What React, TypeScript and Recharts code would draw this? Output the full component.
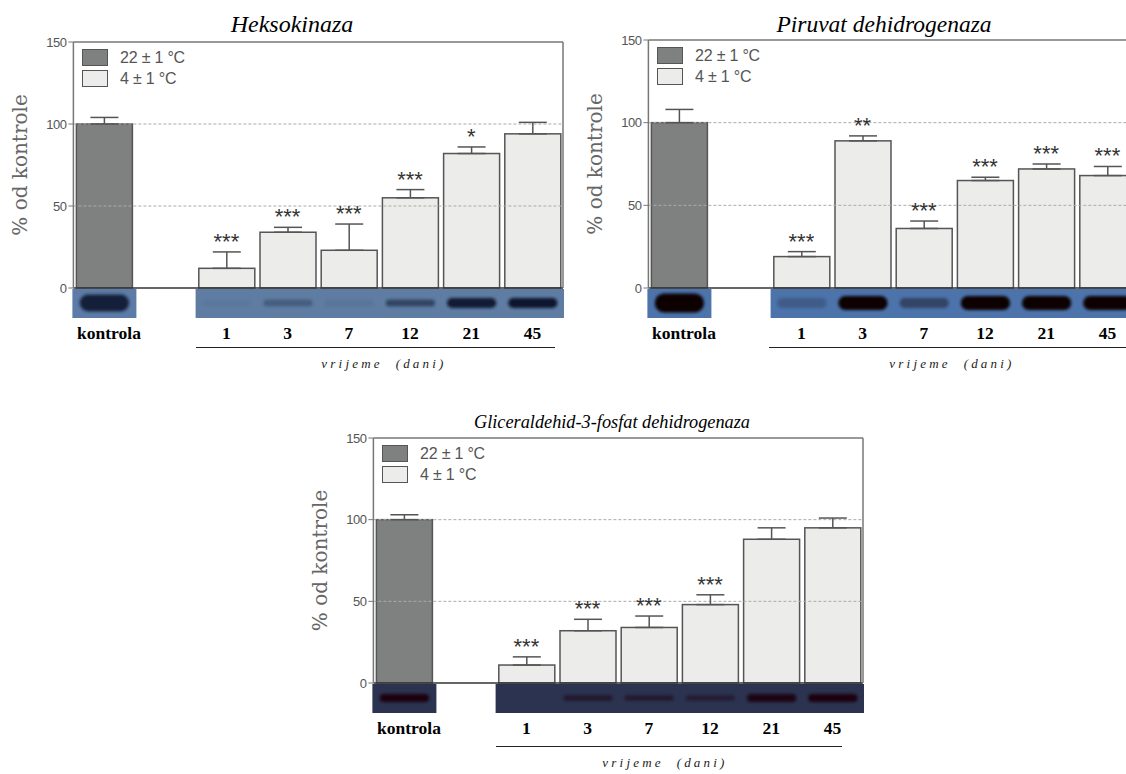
import {
  Bar,
  Cell,
  ComposedChart,
  ErrorBar,
  LabelList,
  Legend,
  Line,
  ReferenceLine,
  XAxis,
  YAxis,
} from 'recharts';

const categories = ['kontrola', '', '1', '3', '7', '12', '21', '45'];
const yTicks = [0, 50, 100, 150];
const legendLabels = ['22 ± 1 °C', '4 ± 1 °C'];

// null = empty slot between the control and the time points
const hexoValues = [100, null, 12, 34, 23, 55, 82, 94];
const hexoErrors = [4, null, 10, 3, 16, 5, 4, 7];
const hexoStars = ['', '', '***', '***', '***', '***', '*', ''];
const hexoBands = [0.9, null, 0.05, 0.3, 0.08, 0.55, 0.95, 1];

const pdhValues = [100, null, 19, 89, 36, 65, 72, 68];
const pdhErrors = [8, null, 3, 3, 4.5, 2, 3, 5.5];
const pdhStars = ['', '', '***', '**', '***', '***', '***', '***'];
const pdhBands = [1, null, 0.2, 1, 0.4, 1, 1, 1];

const gapdhValues = [100, null, 11, 32, 34, 48, 88, 95];
const gapdhErrors = [3, null, 5, 7, 7, 6, 7, 6];
const gapdhStars = ['', '', '***', '***', '***', '***', '', ''];
const gapdhBands = [1, null, 0, 0.55, 0.5, 0.45, 0.9, 1];

const DARK = '#7f8180';
const LIGHT = '#ececeb';
const EDGE = '#555';
const serif = '"Liberation Serif", serif';
const sans = '"Liberation Sans", sans-serif';

function buildRows(values, errors, stars, bands) {
  return categories.map((label, i) => ({
    label,
    value: values[i],
    errRange: errors[i] == null ? undefined : [0, errors[i]],
    top: values[i] == null ? null : values[i] + errors[i],
    stars: stars[i],
    band: bands[i],
  }));
}

function LegendBox() {
  return (
    <div style={{ fontFamily: sans, fontSize: 16, color: '#555', letterSpacing: -0.2 }}>
      {legendLabels.map((text, i) => (
        <div key={text} style={{ display: 'flex', alignItems: 'center', height: 21 }}>
          <span
            style={{
              width: 24,
              height: 15,
              marginRight: 12,
              background: i === 0 ? DARK : LIGHT,
              border: `1px solid ${EDGE}`,
            }}
          />
          {text}
        </div>
      ))}
    </div>
  );
}

function CategoryTick({ x, y, payload }) {
  // the "kontrola" label sits a little right of its bar in the original
  const shift = payload.value === 'kontrola' ? 5 : 0;
  return (
    <text x={x + shift} y={y} dy={12} textAnchor="middle" fontFamily={serif} fontWeight={700} fontSize={17.5} fill="#000">
      {payload.value}
    </text>
  );
}

function Panel({ rows, left, top, width, height, plotTop, plotBottom, blot, title, titleX, titleY, titleSize, ruleX1, ruleX2, ruleY, captionX }) {
  const blurId = `blur-${left}`;

  const barShape = (props) => {
    const { x, y, width: w, height: h, payload, index } = props;
    if (payload.value == null) return null;
    const stripTop = y + h + 1;
    const isControl = index === 0;
    const pad = isControl ? 4 : 3.2;
    const bandH = isControl ? blot.controlBand : payload.band > 0.8 ? blot.band : blot.band * 0.7;
    return (
      <g>
        <rect x={x} y={y} width={w} height={h} fill={isControl ? DARK : LIGHT} stroke={EDGE} strokeWidth={1.5} />
        <rect x={x - pad} y={stripTop} width={w + pad * 2} height={29} fill={isControl ? blot.control : blot.lanes} />
        <rect
          x={x + w * 0.06}
          y={stripTop + 14 - bandH / 2}
          width={w * 0.88}
          height={bandH}
          rx={bandH / 2}
          fill={blot.ink}
          opacity={payload.band}
          filter={`url(#${blurId})`}
        />
      </g>
    );
  };

  return (
    <div style={{ position: 'absolute', left, top, width, height }}>
      <div
        style={{
          position: 'absolute',
          left: titleX - left - 200,
          top: titleY - top - 12,
          width: 400,
          textAlign: 'center',
          fontFamily: serif,
          fontStyle: 'italic',
          fontSize: titleSize,
          lineHeight: '24px',
          color: '#000',
        }}
      >
        {title}
      </div>
      <ComposedChart
        width={width}
        height={height}
        data={rows}
        margin={{ top: plotTop, right: 6, left: 0, bottom: plotBottom - 30 }}
        barCategoryGap={0}
      >
        <defs>
          <filter id={blurId} x="-30%" y="-100%" width="160%" height="300%">
            <feGaussianBlur stdDeviation="1.8" />
          </filter>
        </defs>
        <XAxis
          dataKey="label"
          type="category"
          interval={0}
          tickLine={false}
          tickMargin={33}
          axisLine={{ stroke: '#333', strokeWidth: 1.5 }}
          tick={CategoryTick}
        />
        <YAxis
          domain={[0, 150]}
          ticks={yTicks}
          width={73.4}
          tickSize={5}
          tickMargin={2}
          interval={0}
          axisLine={{ stroke: '#777', strokeWidth: 1.5 }}
          tickLine={{ stroke: '#777' }}
          tick={{ fontFamily: sans, fontSize: 13, fill: '#555', letterSpacing: -0.5 }}
          label={{
            value: '% od kontrole',
            angle: -90,
            position: 'insideLeft',
            offset: 20,
            style: { fontFamily: '"DejaVu Serif", serif', fontSize: 20, fill: '#666', textAnchor: 'middle' },
          }}
        />
        <YAxis
          yAxisId="frame"
          orientation="right"
          domain={[0, 150]}
          width={1}
          tick={false}
          tickLine={false}
          axisLine={{ stroke: '#777', strokeWidth: 1.5 }}
        />
        <ReferenceLine y={150} stroke="#777" strokeWidth={1.5} />
        <ReferenceLine y={100} stroke="#aaa" strokeDasharray="3 2" />
        <ReferenceLine y={50} stroke="#aaa" strokeDasharray="3 2" />
        <Legend
          layout="vertical"
          align="center"
          verticalAlign="middle"
          content={<LegendBox />}
          wrapperStyle={{ left: 82, top: plotTop + 5, width: 140 }}
        />
        <Bar dataKey="value" barSize={56} shape={barShape} isAnimationActive={false}>
          {rows.map((row) => (
            <Cell key={row.label} fill={row.label === 'kontrola' ? DARK : LIGHT} />
          ))}
          <ErrorBar dataKey="errRange" width={14} stroke={EDGE} strokeWidth={1.5} isAnimationActive={false} />
        </Bar>
        <Line dataKey="top" stroke="none" dot={false} activeDot={false} legendType="none" isAnimationActive={false}>
          <LabelList
            dataKey="stars"
            position="top"
            offset={3}
            style={{ fontFamily: sans, fontSize: 22, fill: '#333' }}
          />
        </Line>
      </ComposedChart>
      <div
        style={{
          position: 'absolute',
          left: ruleX1 - left,
          top: ruleY - top,
          width: ruleX2 - ruleX1,
          borderTop: '1.5px solid #222',
        }}
      />
      <div
        style={{
          position: 'absolute',
          left: captionX - left - 150,
          top: ruleY - top + 9,
          width: 300,
          textAlign: 'center',
          fontFamily: serif,
          fontStyle: 'italic',
          fontSize: 13,
          letterSpacing: 3.2,
          whiteSpace: 'pre',
          color: '#222',
        }}
      >
        {'vrijeme  (dani)'}
      </div>
    </div>
  );
}

export default function App() {
  return (
    <div
      style={{
        position: 'absolute',
        left: 0,
        top: 0,
        width: 1126,
        height: 774,
        overflow: 'hidden',
        background: '#fff',
      }}
    >
      <Panel
        rows={buildRows(hexoValues, hexoErrors, hexoStars, hexoBands)}
        left={0}
        top={0}
        width={570}
        height={385}
        plotTop={42}
        plotBottom={97}
        blot={{ control: '#5c7ba6', lanes: '#5f7da3', ink: '#10182e', band: 10, controlBand: 17 }}
        title="Heksokinaza"
        titleX={292}
        titleY={24}
        titleSize={24}
        ruleX1={196}
        ruleX2={555}
        ruleY={347}
        captionX={384}
      />
      <Panel
        rows={buildRows(pdhValues, pdhErrors, pdhStars, pdhBands)}
        left={575}
        top={0}
        width={570}
        height={385}
        plotTop={40}
        plotBottom={97}
        blot={{ control: '#4d73ab', lanes: '#4d73ab', ink: '#090406', band: 14, controlBand: 19 }}
        title="Piruvat dehidrogenaza"
        titleX={884}
        titleY={24}
        titleSize={23.5}
        ruleX1={769}
        ruleX2={1126}
        ruleY={347}
        captionX={952}
      />
      <Panel
        rows={buildRows(gapdhValues, gapdhErrors, gapdhStars, gapdhBands)}
        left={300}
        top={396}
        width={570}
        height={378}
        plotTop={42}
        plotBottom={91}
        blot={{ control: '#2b3350', lanes: '#2b3350', ink: '#1c050f', band: 8, controlBand: 8 }}
        title="Gliceraldehid-3-fosfat dehidrogenaza"
        titleX={612}
        titleY={422}
        titleSize={18.3}
        ruleX1={496}
        ruleX2={842}
        ruleY={746}
        captionX={665}
      />
    </div>
  );
}
